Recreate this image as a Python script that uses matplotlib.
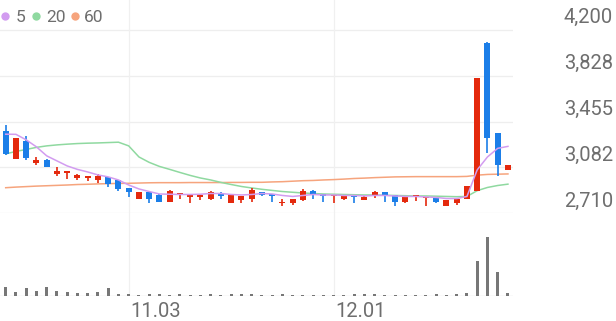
import matplotlib
matplotlib.use('Agg')
import matplotlib.pyplot as plt
from matplotlib.transforms import blended_transform_factory, offset_copy
from matplotlib.lines import Line2D
import numpy as np

plt.rcParams['font.family'] = ['Roboto', 'DejaVu Sans']

# ---- data ----
opens = [3380, 3150, 3300, 3120, 3140, 3030, 3035, 2995, 2995, 2980,
         3005, 2980, 2915, 2825, 2885, 2860, 2805, 2860, 2845, 2840,
         2830, 2875, 2795, 2815, 2830, 2880, 2865, 2790, 2790, 2820,
         2895, 2865, 2850, 2830, 2860, 2820, 2850, 2880, 2860, 2805,
         2840, 2835, 2845, 2770, 2790, 2830, 2895, 4095, 3360, 3065]
highs = [3430, 3320, 3340, 3165, 3150, 3085, 3050, 3030, 3010, 3030,
         3005, 2980, 2915, 2885, 2885, 2870, 2900, 2875, 2860, 2855,
         2890, 2880, 2860, 2850, 2915, 2885, 2865, 2825, 2825, 2905,
         2900, 2865, 2860, 2860, 2860, 2850, 2890, 2880, 2860, 2850,
         2860, 2845, 2845, 2820, 2825, 2930, 3810, 4100, 3360, 3105]
lows = [3185, 3150, 3140, 3105, 3085, 3010, 2990, 2980, 2975, 2960,
        2925, 2895, 2845, 2825, 2790, 2805, 2800, 2830, 2790, 2815,
        2815, 2830, 2795, 2790, 2805, 2850, 2805, 2770, 2775, 2810,
        2830, 2805, 2790, 2820, 2795, 2815, 2835, 2805, 2770, 2790,
        2810, 2770, 2795, 2770, 2775, 2830, 2890, 3200, 3010, 3065]
closes = [3190, 3320, 3160, 3145, 3085, 3055, 3050, 3020, 3010, 3015,
          2950, 2905, 2885, 2885, 2830, 2805, 2895, 2875, 2860, 2855,
          2880, 2850, 2860, 2850, 2900, 2855, 2850, 2805, 2825, 2890,
          2865, 2850, 2860, 2855, 2845, 2845, 2885, 2855, 2805, 2850,
          2860, 2845, 2805, 2820, 2825, 2930, 3810, 3325, 3105, 3105]
volumes = [900, 380, 720, 450, 860, 450, 380, 280, 280, 340,
           720, 200, 140, 100, 150, 150, 100, 120, 100, 100,
           120, 100, 120, 120, 120, 100, 100, 120, 100, 100,
           100, 80, 80, 80, 120, 140, 120, 100, 100, 100,
           100, 100, 120, 100, 150, 280, 3450, 5900, 2340, 280]
ma5 = [3353, 3352, 3307, 3250, 3177, 3136, 3095, 3067, 3046, 3022,
       3006, 2981, 2940, 2908, 2887, 2867, 2865, 2863, 2863, 2865,
       2871, 2871, 2863, 2859, 2863, 2871, 2867, 2855, 2847, 2855,
       2863, 2859, 2859, 2855, 2855, 2851, 2855, 2855, 2851, 2847,
       2847, 2843, 2839, 2830, 2830, 2847, 3063, 3168, 3238, 3254]
ma20 = [3193, 3213, 3229, 3246, 3258, 3266, 3272, 3277, 3280, 3282,
        3285, 3288, 3258, 3168, 3124, 3091, 3067, 3042, 3018, 2997,
        2981, 2961, 2944, 2928, 2916, 2905, 2896, 2887, 2881, 2875,
        2871, 2867, 2865, 2863, 2861, 2859, 2859, 2857, 2855, 2853,
        2851, 2851, 2849, 2847, 2845, 2847, 2894, 2920, 2936, 2947]
ma60 = [2918, 2923, 2927, 2931, 2934, 2937, 2940, 2944, 2946, 2949,
        2951, 2953, 2954, 2956, 2958, 2959, 2959, 2959, 2960, 2960,
        2960, 2960, 2961, 2961, 2962, 2962, 2965, 2967, 2971, 2975,
        2977, 2981, 2984, 2988, 2993, 2996, 3000, 3003, 3006, 3007,
        3008, 3008, 3008, 3008, 3008, 3010, 3020, 3026, 3028, 3030]
price_ticks = [2710, 3082.5, 3455, 3827.5, 4200]
price_tick_labels = ['2,710', '3,082', '3,455', '3,828', '4,200']
date_tick_pos = [12, 32]
date_tick_labels = ['11.03', '12.01']
legend_labels = ['5', '20', '60']

# ---- style ----
UP = '#e4290d'
DOWN = '#1b7ee8'
C_MA5 = '#d29cf0'
C_MA20 = '#8fd9a0'
C_MA60 = '#f6a47d'
GRID = '#eeeeee'
TXT = '#6e6e6e'

W, H = 616, 321
fig = plt.figure(figsize=(W / 100, H / 100), dpi=100)

plot_right = 513
price_bottom = 213.3
vol_bottom = 295.5

ax = fig.add_axes([0, 1 - price_bottom / H, plot_right / W, price_bottom / H])
axv = fig.add_axes([0, 1 - vol_bottom / H, plot_right / W, (vol_bottom - price_bottom) / H])

n = len(closes)
x = np.arange(n)
step = 10.25
x0 = 5.7
xlim = (-x0 / step, (plot_right - x0) / step)

# price scale: 2710 at bottom, 4200 at y=30px
ppx = (4200 - 2710) / (price_bottom - 30)
ax.set_xlim(*xlim)
ax.set_ylim(2710, 2710 + price_bottom * ppx)

for t in price_ticks:
    ax.axhline(t, color=GRID, lw=0.9, zorder=0)
for p in date_tick_pos:
    ax.axvline(p, color='#f0f0f0', lw=0.9, zorder=0)
    axv.axvline(p, color='#f0f0f0', lw=0.9, zorder=0)

o = np.array(opens); c = np.array(closes)
hi = np.array(highs); lo = np.array(lows)
cols = [UP if cc >= oo else DOWN for oo, cc in zip(o, c)]

ax.vlines(x, lo, hi, colors=cols, lw=1.2, zorder=3)
body_bot = np.minimum(o, c)
body_h = np.maximum(np.abs(c - o), 1.3 * ppx)
ax.bar(x, body_h, bottom=body_bot, width=0.58, color=cols, zorder=4, linewidth=0)

ax.plot(x, ma60, color=C_MA60, lw=1.1, zorder=2)
ax.plot(x, ma20, color=C_MA20, lw=1.1, zorder=2)
ax.plot(x, ma5, color=C_MA5, lw=1.1, zorder=5)

for a in (ax, axv):
    for s in a.spines.values():
        s.set_visible(False)
    a.set_xticks([]); a.set_yticks([])
    a.patch.set_alpha(0)

# price labels on right, above gridlines
tr = blended_transform_factory(ax.transAxes, ax.transData)
tr = offset_copy(tr, fig=fig, x=0, y=4.8, units='points')
for t, lab in zip(price_ticks, price_tick_labels):
    ax.text(613 / plot_right, t, lab, transform=tr, ha='right', va='baseline',
            fontsize=14.5, color=TXT, clip_on=False)

# volume
axv.set_xlim(*xlim)
axv.set_ylim(0, 5900 * (vol_bottom - price_bottom) / 59.0)
axv.bar(x, volumes, width=0.3, color='#777777', linewidth=0, zorder=3)
axv.axhline(0, color='#e4e4e4', lw=1.0, zorder=2)

trx = blended_transform_factory(axv.transData, axv.transAxes)
trx = offset_copy(trx, fig=fig, x=1.5, y=-15.5, units='points')
for p, lab in zip(date_tick_pos, date_tick_labels):
    axv.text(p, 0, lab, transform=trx, ha='left', va='baseline',
             fontsize=14.5, color=TXT, clip_on=False)

# legend
leg_cols = [C_MA5, C_MA20, C_MA60]
dot_x = [5, 36, 75]
txt_x = [16, 46, 83.5]
for lab, col, dx, tx in zip(legend_labels, leg_cols, dot_x, txt_x):
    fig.add_artist(Line2D([dx / W], [1 - 15.7 / H], marker='o', markersize=6,
                          color=col, markeredgewidth=0, transform=fig.transFigure))
    fig.text(tx / W, 1 - 22 / H, lab, ha='left', va='baseline',
             fontsize=12.5, color=TXT)

fig.savefig('out.png', dpi=100, facecolor='white')
